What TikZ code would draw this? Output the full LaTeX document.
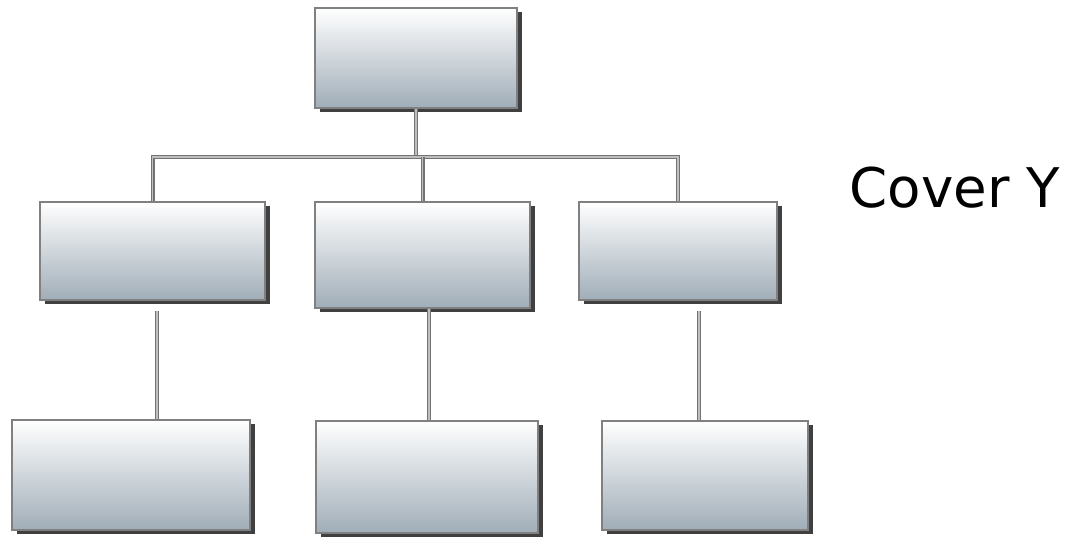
\documentclass[tikz,border=0pt]{standalone}
\usepackage{fontspec}
\newfontfamily\labelfont{DejaVu Sans}
\usetikzlibrary{shadows}

\definecolor{boxbot}{RGB}{160,173,183}
\definecolor{boxline}{RGB}{128,128,128}
\definecolor{linkgray}{RGB}{115,115,115}

\tikzset{every picture/.style={line width=0.75pt}}
\tikzset{
  orgbox/.style={rectangle, draw=boxline, line width=1.1pt, inner sep=0pt,
    top color=white, bottom color=boxbot,
    drop shadow={shadow xshift=3.5pt, shadow yshift=-3pt, fill=black!75, opacity=1}},
  link/.style={draw=linkgray, line width=1.1pt, double=gray!50, double distance=0.8pt}
}

\begin{document}
\begin{tikzpicture}[x=0.75pt,y=0.75pt,yscale=-1,xscale=1]
\useasboundingbox (0,0) rectangle (1078,544);

%Top box
\node [orgbox, minimum width=151.5pt, minimum height=75pt] (top) at (416,58) {};
%Middle row
\node [orgbox, minimum width=168.75pt, minimum height=73.5pt] (m1) at (152.5,251) {};
\node [orgbox, minimum width=161.25pt, minimum height=79.5pt] (m2) at (422.5,255) {};
\node [orgbox, minimum width=148.5pt, minimum height=73.5pt] (m3) at (678,251) {};
%Bottom row
\node [orgbox, minimum width=178.5pt, minimum height=82.5pt] (b1) at (131,475) {};
\node [orgbox, minimum width=166.5pt, minimum height=84pt] (b2) at (427,477) {};
\node [orgbox, minimum width=154.5pt, minimum height=81.75pt] (b3) at (705,475.5) {};

%Connector points
\coordinate (bus) at (0,157);
\coordinate (c1) at (157,311);
\coordinate (c2) at (429,0);
\coordinate (c3) at (699,311);

%Top to middle row
\draw [link] (top.south) -- (top.south |- bus);
\draw [link] (m1.north) -- (m1.north |- bus) -- (m3.north |- bus) -- (m3.north);
\draw [link] (m2.north |- bus) -- (m2.north);
%Middle to bottom row
\draw [link] (c1) -- (c1 |- b1.north);
\draw [link] (m2.south -| c2) -- (b2.north -| c2);
\draw [link] (c3) -- (c3 |- b3.north);

% Text Node
\node [anchor=base west, inner sep=0pt, font=\labelfont\fontsize{41}{49}\selectfont] (cover) at (849,207) {Cover Y};

\end{tikzpicture}
\end{document}
